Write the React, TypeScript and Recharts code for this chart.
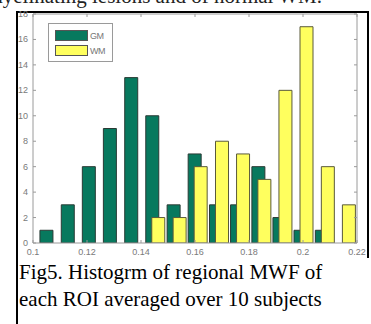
import React from "react";
import { ComposedChart, Bar, XAxis, YAxis, Legend } from "recharts";

// Histogram bin centres (MWF) and counts of ROIs per bin
const binCenters = [0.1061, 0.114, 0.1218, 0.1296, 0.1375, 0.1453, 0.1532, 0.161, 0.1689, 0.1767, 0.1846, 0.1924, 0.2002, 0.2081, 0.2159];
const gmCounts = [1, 3, 6, 9, 13, 10, 3, 7, 3, 3, 6, 2, 1, 1, null];
const wmCounts = [null, null, null, null, null, 2, 2, 6, 8, 7, 5, 12, 17, 6, 3];
const seriesNames = ["GM", "WM"];
const seriesColors = ["#07795E", "#FFFF5E"];

const xTicks = [0.1, 0.12, 0.14, 0.16, 0.18, 0.2, 0.22];
const xTickLabels = ["0.1", "0.12", "0.14", "0.16", "0.18", "0.2", "0.22"];
const yTicks = [0, 2, 4, 6, 8, 10, 12, 14, 16, 18];
const yTickLabels = ["0", "2", "4", "6", "8", "10", "12", "14", "16", "18"];

const topText = "demyelinating lesions and of normal WM.";
const captionLines = ["Fig5. Histogrm of regional MWF of", "each ROI averaged over 10 subjects"];

const data = binCenters.map((x, i) => ({ x, gm: gmCounts[i], wm: wmCounts[i] }));

const AXIS = "#9a9a9a";
const LABEL = "#7a7a7a";
const TICKFONT = "'Liberation Sans', Arial, sans-serif";
const SERIF = "'Liberation Serif', 'Times New Roman', serif";

const LeftTick = (p: any) => {
  const i = yTicks.indexOf(p.payload.value);
  return (
    <g>
      <line x1={p.x} x2={p.x + 3} y1={p.y} y2={p.y} stroke={AXIS} />
      <text x={p.x - 5} y={p.y + 3} textAnchor="end" fontSize={9} fill={LABEL} fontFamily={TICKFONT}>
        {yTickLabels[i]}
      </text>
    </g>
  );
};
const RightTick = (p: any) => <line x1={p.x} x2={p.x - 3} y1={p.y} y2={p.y} stroke={AXIS} />;
const BottomTick = (p: any) => {
  const i = xTicks.indexOf(p.payload.value);
  return (
    <g>
      <line x1={p.x} x2={p.x} y1={p.y} y2={p.y - 3} stroke={AXIS} />
      <text x={p.x} y={p.y + 12} textAnchor="middle" fontSize={9} fill={LABEL} fontFamily={TICKFONT}>
        {xTickLabels[i]}
      </text>
    </g>
  );
};
const TopTick = (p: any) => <line x1={p.x} x2={p.x} y1={p.y} y2={p.y + 3} stroke={AXIS} />;

const LegendBox = () => (
  <div
    style={{
      border: `1px solid ${AXIS}`,
      background: "#fff",
      width: 65,
      padding: "4px 0 3px 6px",
      boxSizing: "border-box",
      fontFamily: TICKFONT,
      fontSize: 9,
      color: "#777",
    }}
  >
    {seriesNames.map((n, i) => (
      <div key={n} style={{ display: "flex", alignItems: "center", height: 15 }}>
        <div style={{ width: 31, height: 9, background: seriesColors[i], border: "1px solid #555", marginRight: 2 }} />
        <span style={{ letterSpacing: -0.5 }}>{n}</span>
      </div>
    ))}
  </div>
);

export default function App() {
  return (
    <div
      style={{
        position: "absolute",
        left: 0,
        top: 0,
        width: 371,
        height: 324,
        overflow: "hidden",
        background: "#fff",
        fontFamily: SERIF,
      }}
    >
      <div style={{ position: "absolute", right: 49, top: -16, fontSize: 21, whiteSpace: "nowrap", color: "#222", fontFamily: SERIF }}>
        {topText}
      </div>
      <div
        style={{
          position: "absolute",
          left: 16,
          top: 11,
          width: 351,
          height: 400,
          borderLeft: "2px solid #000",
          borderTop: "2px solid #000",
        }}
      />
      <div style={{ position: "absolute", left: 367, top: 11, width: 2, height: 247, background: "#000" }} />
      <div style={{ position: "absolute", left: 0, top: 0 }}>
        <ComposedChart
          width={371}
          height={262}
          data={data}
          margin={{ top: 13, right: 13, bottom: 18, left: 32 }}
          barSize={13}
          barGap={-7}
        >
          <XAxis
            dataKey="x"
            type="number"
            domain={[0.1, 0.22]}
            ticks={xTicks}
            interval={0}
            height={1}
            tickSize={0}
            tickMargin={0}
            tickLine={false}
            axisLine={{ stroke: AXIS }}
            tick={BottomTick}
            allowDataOverflow
          />
          <XAxis
            xAxisId="top"
            orientation="top"
            dataKey="x"
            type="number"
            domain={[0.1, 0.22]}
            ticks={xTicks}
            interval={0}
            height={1}
            tickSize={0}
            tickMargin={0}
            tickLine={false}
            axisLine={{ stroke: AXIS }}
            tick={TopTick}
            allowDataOverflow
          />
          <YAxis
            type="number"
            domain={[0, 18]}
            ticks={yTicks}
            interval={0}
            width={1}
            tickSize={0}
            tickMargin={0}
            tickLine={false}
            axisLine={{ stroke: AXIS }}
            tick={LeftTick}
            allowDataOverflow
          />
          <YAxis
            yAxisId="right"
            orientation="right"
            type="number"
            domain={[0, 18]}
            ticks={yTicks}
            interval={0}
            width={1}
            tickSize={0}
            tickMargin={0}
            tickLine={false}
            axisLine={{ stroke: AXIS }}
            tick={RightTick}
            allowDataOverflow
          />
          <Legend
            layout="vertical"
            align="center"
            verticalAlign="middle"
            content={LegendBox}
            wrapperStyle={{ position: "absolute", left: 48, top: 23, width: 65 }}
          />
          <Bar dataKey="gm" name={seriesNames[0]} fill={seriesColors[0]} stroke="#2a3a34" strokeWidth={1} isAnimationActive={false} />
          <Bar dataKey="wm" name={seriesNames[1]} fill={seriesColors[1]} stroke="#5a5a3a" strokeWidth={1} isAnimationActive={false} />
        </ComposedChart>
      </div>
      <div style={{ position: "absolute", left: 19, top: 259, fontSize: 21, lineHeight: "27px", color: "#000", whiteSpace: "nowrap", fontFamily: SERIF }}>
        {captionLines.map((l) => (
          <div key={l}>{l}</div>
        ))}
      </div>
    </div>
  );
}
